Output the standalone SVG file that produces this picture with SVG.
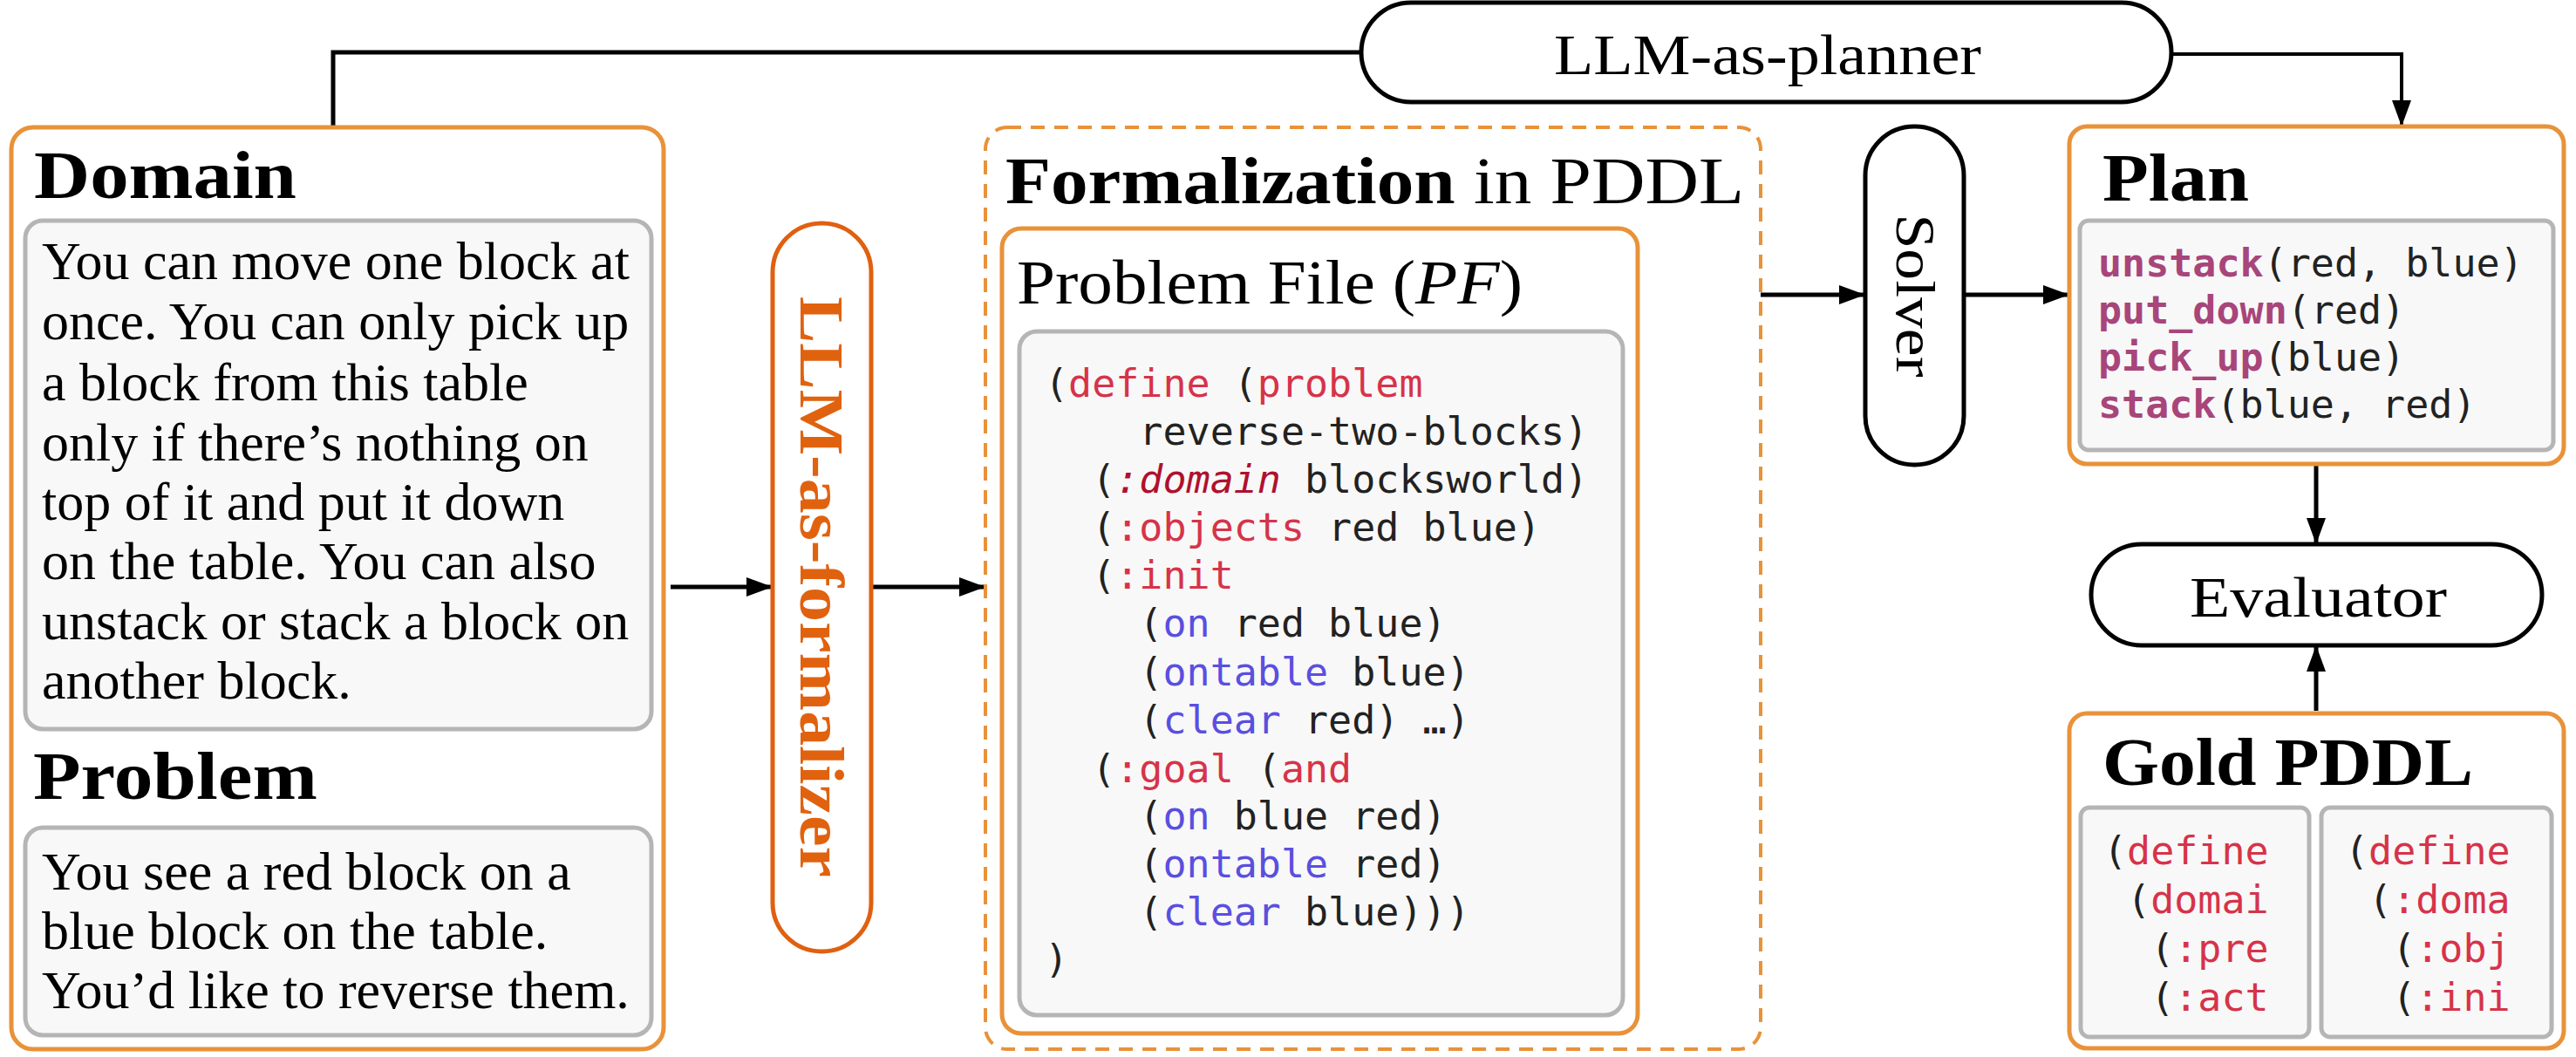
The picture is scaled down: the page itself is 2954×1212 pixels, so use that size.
<svg xmlns="http://www.w3.org/2000/svg" width="2954" height="1212" viewBox="0 0 2954 1212">
<defs>
<marker id="ah" markerWidth="30" markerHeight="22" refX="28" refY="11" orient="auto" markerUnits="userSpaceOnUse" viewBox="0 0 30 22">
<path d="M0,0 L30,11 L0,22 z" fill="#000"/>
</marker>
<style>
.ob{fill:#fff;stroke:#e8923a;stroke-width:5}
.gb{fill:#f8f8f8;stroke:#b5b5b5;stroke-width:5}
.pill{fill:#fff;stroke:#000;stroke-width:5}
.ser{font-family:"Liberation Serif",serif;fill:#000}
.hd{font-family:"Liberation Serif",serif;font-weight:bold;font-size:78px;fill:#000}
.body{font-family:"Liberation Serif",serif;font-size:62px;fill:#000}
.mono{font-family:"DejaVu Sans Mono",monospace;font-size:45px;fill:#222}
.r{fill:#d6334a}
.ri{fill:#b0102e;font-style:italic}
.b{fill:#5a4fe0}
.f{fill:#a8457a;font-weight:bold}
.conn{stroke:#000;stroke-width:5;fill:none}
</style>
</defs>
<g id="connectors">
<path class="conn" d="M382,146 V60 H1561"/>
<path class="conn" d="M2490,62 H2754 V143" marker-end="url(#ah)" style="stroke-width:4"/>
<line class="conn" x1="769" y1="673" x2="884" y2="673" marker-end="url(#ah)"/>
<line class="conn" x1="999" y1="673" x2="1128" y2="673" marker-end="url(#ah)"/>
<line class="conn" x1="2019" y1="338" x2="2137" y2="338" marker-end="url(#ah)"/>
<line class="conn" x1="2252" y1="338" x2="2371" y2="338" marker-end="url(#ah)"/>
<line class="conn" x1="2656" y1="532" x2="2656" y2="622" marker-end="url(#ah)"/>
<line class="conn" x1="2656" y1="815" x2="2656" y2="742" marker-end="url(#ah)"/>
</g>
<g id="planner">
<rect class="pill" x="1561" y="3" width="929" height="114" rx="57"/>
<text class="ser" x="1782" y="85" font-size="66" textLength="490" lengthAdjust="spacingAndGlyphs">LLM-as-planner</text>
</g>
<g id="domain-problem">
<rect class="ob" x="13" y="146" width="748" height="1057" rx="25"/>
<text class="hd" x="39" y="227" textLength="301" lengthAdjust="spacingAndGlyphs">Domain</text>
<rect class="gb" x="29" y="253" width="718" height="583" rx="20"/>
<text class="body">
<tspan x="48" y="320">You can move one block at</tspan>
<tspan x="48" y="389">once. You can only pick up</tspan>
<tspan x="48" y="459">a block from this table</tspan>
<tspan x="48" y="528">only if there’s nothing on</tspan>
<tspan x="48" y="596">top of it and put it down</tspan>
<tspan x="48" y="664">on the table. You can also</tspan>
<tspan x="48" y="733">unstack or stack a block on</tspan>
<tspan x="48" y="801">another block.</tspan>
</text>
<text class="hd" x="38" y="916" textLength="326" lengthAdjust="spacingAndGlyphs">Problem</text>
<rect class="gb" x="29" y="949" width="718" height="238" rx="20"/>
<text class="body">
<tspan x="48" y="1020">You see a red block on a</tspan>
<tspan x="48" y="1088">blue block on the table.</tspan>
<tspan x="48" y="1156">You’d like to reverse them.</tspan>
</text>
</g>
<g id="formalizer">
<rect x="886" y="256" width="113" height="835" rx="56" fill="#fff" stroke="#e06010" stroke-width="5"/>
<text x="942" y="673" transform="rotate(90 942 673)" text-anchor="middle" dominant-baseline="central" font-family="Liberation Serif,serif" font-weight="bold" font-size="72" fill="#e0620f" textLength="666" lengthAdjust="spacingAndGlyphs">LLM-as-formalizer</text>
</g>
<g id="formalization">
<rect x="1130" y="146" width="889" height="1057" rx="25" fill="none" stroke="#e8923a" stroke-width="4" stroke-dasharray="16 11"/>
<text class="ser" x="1153" y="233" font-size="76" textLength="847" lengthAdjust="spacingAndGlyphs"><tspan font-weight="bold">Formalization</tspan> in PDDL</text>
<rect class="ob" x="1149" y="262" width="729" height="923" rx="22"/>
<text class="ser" x="1166" y="348" font-size="72" textLength="580" lengthAdjust="spacingAndGlyphs">Problem File (<tspan font-style="italic">PF</tspan>)</text>
<rect class="gb" x="1169" y="380" width="692" height="784" rx="20"/>
<text class="mono" xml:space="preserve">
<tspan x="1198" y="455">(<tspan class="r">define</tspan> (<tspan class="r">problem</tspan></tspan>
<tspan x="1198" y="510">    reverse-two-blocks)</tspan>
<tspan x="1198" y="565">  (<tspan class="ri">:domain</tspan> blocksworld)</tspan>
<tspan x="1198" y="620">  (<tspan class="r">:objects</tspan> red blue)</tspan>
<tspan x="1198" y="675">  (<tspan class="r">:init</tspan></tspan>
<tspan x="1198" y="730">    (<tspan class="b">on</tspan> red blue)</tspan>
<tspan x="1198" y="786">    (<tspan class="b">ontable</tspan> blue)</tspan>
<tspan x="1198" y="841">    (<tspan class="b">clear</tspan> red) …)</tspan>
<tspan x="1198" y="897">  (<tspan class="r">:goal</tspan> (<tspan class="r">and</tspan></tspan>
<tspan x="1198" y="951">    (<tspan class="b">on</tspan> blue red)</tspan>
<tspan x="1198" y="1006">    (<tspan class="b">ontable</tspan> red)</tspan>
<tspan x="1198" y="1061">    (<tspan class="b">clear</tspan> blue)))</tspan>
<tspan x="1198" y="1115">)</tspan>
</text>
</g>
<g id="solver">
<rect class="pill" x="2139" y="145" width="113" height="388" rx="56"/>
<text class="ser" x="2196" y="339" font-size="64" transform="rotate(90 2196 339)" text-anchor="middle" dominant-baseline="central" textLength="187" lengthAdjust="spacingAndGlyphs">Solver</text>
</g>
<g id="plan">
<rect class="ob" x="2373" y="145" width="567" height="387" rx="20"/>
<text class="hd" x="2411" y="230" textLength="168" lengthAdjust="spacingAndGlyphs">Plan</text>
<rect class="gb" x="2385" y="253" width="543" height="263" rx="10"/>
<text class="mono" xml:space="preserve">
<tspan x="2406" y="317"><tspan class="f">unstack</tspan>(red, blue)</tspan>
<tspan x="2406" y="371"><tspan class="f">put_down</tspan>(red)</tspan>
<tspan x="2406" y="425"><tspan class="f">pick_up</tspan>(blue)</tspan>
<tspan x="2406" y="479"><tspan class="f">stack</tspan>(blue, red)</tspan>
</text>
</g>
<g id="evaluator">
<rect class="pill" x="2398" y="624" width="517" height="116" rx="58"/>
<text class="ser" x="2511" y="707" font-size="66" textLength="295" lengthAdjust="spacingAndGlyphs">Evaluator</text>
</g>
<g id="gold">
<rect class="ob" x="2373" y="818" width="567" height="384" rx="20"/>
<text class="hd" x="2411" y="900" textLength="425" lengthAdjust="spacingAndGlyphs">Gold PDDL</text>
<rect class="gb" x="2386" y="926" width="262" height="263" rx="10"/>
<rect class="gb" x="2662" y="926" width="264" height="263" rx="10"/>
<text class="mono" xml:space="preserve">
<tspan x="2412" y="991">(<tspan class="r">define</tspan></tspan>
<tspan x="2412" y="1047"> (<tspan class="r">domai</tspan></tspan>
<tspan x="2412" y="1103">  (<tspan class="r">:pre</tspan></tspan>
<tspan x="2412" y="1159">  (<tspan class="r">:act</tspan></tspan>
<tspan x="2689" y="991">(<tspan class="r">define</tspan></tspan>
<tspan x="2689" y="1047"> (<tspan class="r">:doma</tspan></tspan>
<tspan x="2689" y="1103">  (<tspan class="r">:obj</tspan></tspan>
<tspan x="2689" y="1159">  (<tspan class="r">:ini</tspan></tspan>
</text>
</g>
</svg>
